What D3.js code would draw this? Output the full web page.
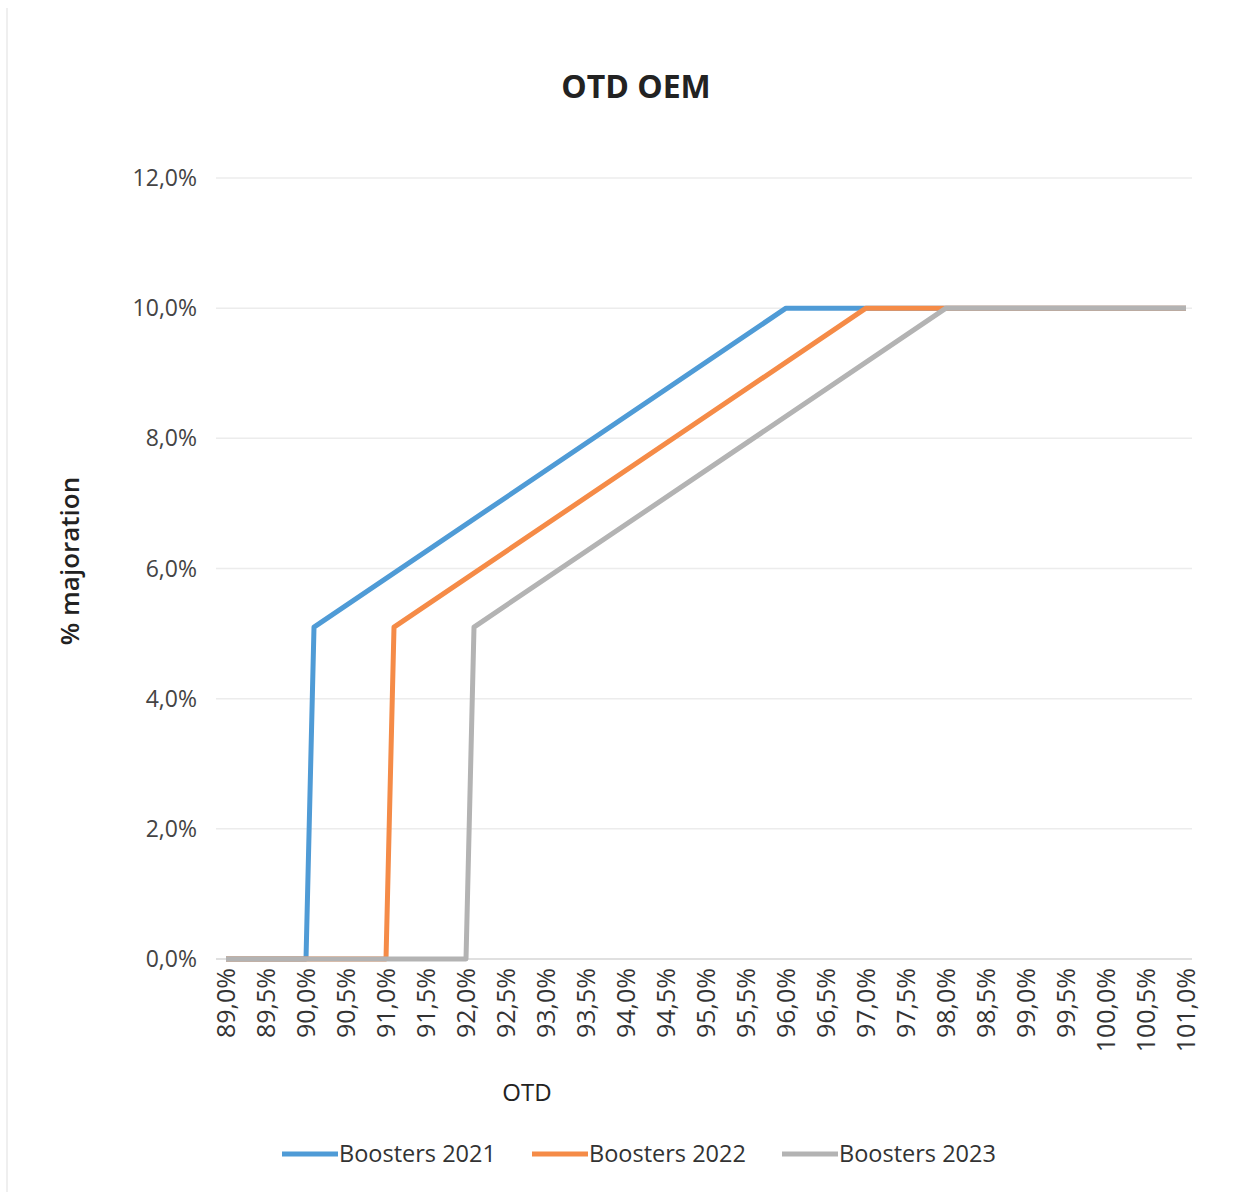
<!DOCTYPE html>
<html>
<head>
<meta charset="utf-8">
<script src="https://cdn.jsdelivr.net/npm/d3@7"></script>
<style>
  body { margin: 0; background: #fff; }
  svg text { font-family: "Open Sans", "Noto Sans", sans-serif; }
</style>
</head>
<body>
<div id="chart"></div>
<script>
// OTD (x, %) and majoration (y, %) for each booster year
const seriesNames = ["Boosters 2021", "Boosters 2022", "Boosters 2023"];
const otd2021 = [89.0, 90.0, 90.1, 96.0, 101.0];
const maj2021 = [0, 0, 5.1, 10.0, 10.0];
const otd2022 = [89.0, 91.0, 91.1, 97.0, 101.0];
const maj2022 = [0, 0, 5.1, 10.0, 10.0];
const otd2023 = [89.0, 92.0, 92.1, 98.0, 101.0];
const maj2023 = [0, 0, 5.1, 10.0, 10.0];
const xTicks = d3.range(0, 25).map(i => 89 + i * 0.5);
const yTicks = [0, 2, 4, 6, 8, 10, 12];
const colors = ["#4f9bd6", "#f58b47", "#b3b3b3"];

const width = 1253;
const height = 1196;

const svg = d3.select("#chart")
    .append("svg")
    .attr("width", width)
    .attr("height", height);

// faint frame of the scanned chart area
svg.append("line")
    .attr("x1", 7).attr("x2", 7).attr("y1", 8).attr("y2", 1192)
    .attr("stroke", "#efefef").attr("stroke-width", 2);

const x = d3.scaleLinear().domain([89, 101]).range([226, 1186]);
const y = d3.scaleLinear().domain([0, 12]).range([959, 178]);

// gridlines
svg.append("g")
    .selectAll("line")
    .data(yTicks.filter(d => d > 0))
    .enter()
    .append("line")
    .attr("x1", 216)
    .attr("x2", 1192)
    .attr("y1", d => y(d))
    .attr("y2", d => y(d))
    .attr("stroke", "#ececec")
    .attr("stroke-width", 1.5);

// bottom axis line
svg.append("line")
    .attr("x1", 216).attr("x2", 1192)
    .attr("y1", y(0)).attr("y2", y(0))
    .attr("stroke", "#d6d6d6").attr("stroke-width", 1.5);

const fmt = v => v.toFixed(1).replace(".", ",") + "%";

// y tick labels
svg.append("g")
    .selectAll("text")
    .data(yTicks)
    .enter()
    .append("text")
    .attr("x", 197)
    .attr("y", d => y(d))
    .attr("dy", "0.35em")
    .attr("text-anchor", "end")
    .style("font-size", "23px")
    .style("fill", "#444")
    .text(d => fmt(d));

// x tick labels, rotated
svg.append("g")
    .selectAll("text")
    .data(xTicks)
    .enter()
    .append("text")
    .attr("transform", d => `translate(${x(d)}, 968) rotate(-90)`)
    .attr("dy", "0.35em")
    .attr("text-anchor", "end")
    .style("font-size", "25px")
    .style("fill", "#333")
    .text(d => fmt(d));

// lines
const line = d3.line()
    .x(d => x(d[0]))
    .y(d => y(d[1]));

const allSeries = [
    d3.zip(otd2021, maj2021),
    d3.zip(otd2022, maj2022),
    d3.zip(otd2023, maj2023)
];

svg.append("g")
    .selectAll("path")
    .data(allSeries)
    .enter()
    .append("path")
    .attr("d", d => line(d))
    .attr("fill", "none")
    .attr("stroke", (d, i) => colors[i])
    .attr("stroke-width", 5)
    .attr("stroke-linejoin", "round");

// title
svg.append("text")
    .attr("x", 636)
    .attr("y", 87)
    .attr("dy", "0.35em")
    .attr("text-anchor", "middle")
    .style("font-size", "32px")
    .style("font-weight", "bold")
    .style("fill", "#222")
    .text("OTD OEM");

// axis titles
svg.append("text")
    .attr("transform", "translate(70, 561) rotate(-90)")
    .attr("dy", "0.35em")
    .attr("text-anchor", "middle")
    .style("font-size", "26px")
    .style("font-weight", "600")
    .style("fill", "#222")
    .text("% majoration");

svg.append("text")
    .attr("x", 527)
    .attr("y", 1093)
    .attr("dy", "0.35em")
    .attr("text-anchor", "middle")
    .style("font-size", "24px")
    .style("fill", "#222")
    .text("OTD");

// legend
const legendX = [282, 532, 782];
const legend = svg.append("g")
    .selectAll("g")
    .data(seriesNames)
    .enter()
    .append("g")
    .attr("transform", (d, i) => `translate(${legendX[i]}, 1154)`);

legend.append("line")
    .attr("x1", 0).attr("x2", 56)
    .attr("y1", 0).attr("y2", 0)
    .attr("stroke", (d, i) => colors[i])
    .attr("stroke-width", 5);

legend.append("text")
    .attr("x", 57)
    .attr("dy", "0.35em")
    .style("font-size", "23.5px")
    .style("fill", "#333")
    .text(d => d);
</script>
</body>
</html>
